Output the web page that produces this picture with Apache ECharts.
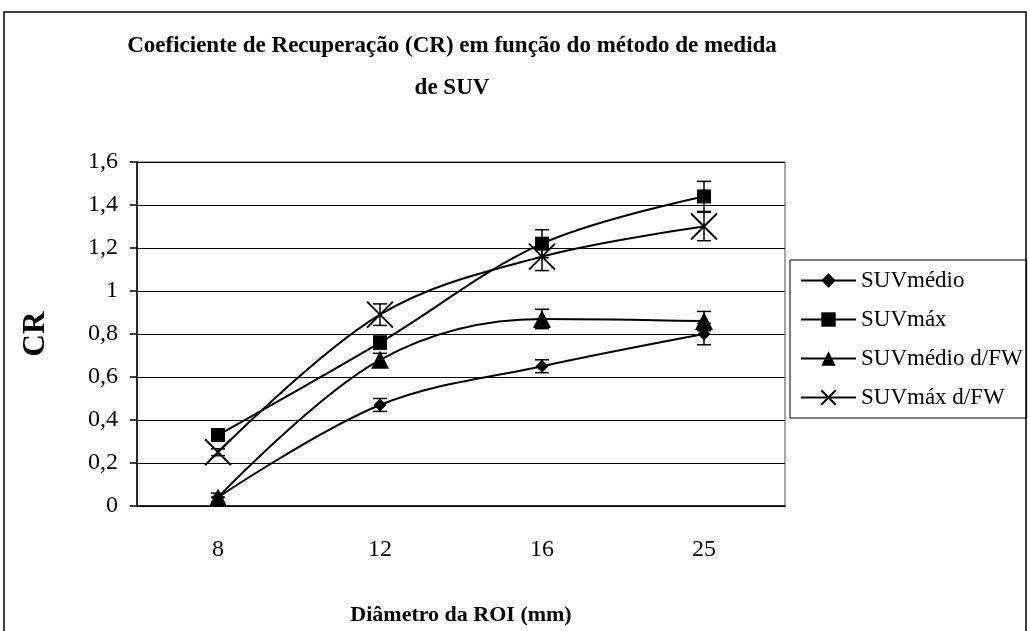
<!DOCTYPE html>
<html>
<head>
<meta charset="utf-8">
<script src="https://cdn.jsdelivr.net/npm/echarts@6/dist/echarts.min.js"></script>
<style>
  html, body { margin: 0; padding: 0; background: #fff; }
  #chart { width: 1029px; height: 631px; }
</style>
</head>
<body>
<div id="chart"></div>
<script>
const categories = ['8', '12', '16', '25']
const seriesNames = ['SUVmédio', 'SUVmáx', 'SUVmédio d/FW', 'SUVmáx d/FW']

const suvMedio = [0.04, 0.47, 0.65, 0.80]
const suvMax = [0.33, 0.76, 1.22, 1.44]
const suvMedioFW = [0.04, 0.68, 0.87, 0.86]
const suvMaxFW = [0.25, 0.89, 1.16, 1.30]

const errMedio = [0, 0.03, 0.03, 0.05]
const errMax = [0.02, 0.03, 0.065, 0.07]
const errMedioFW = [0.02, 0.03, 0.045, 0.045]
const errMaxFW = [0.016, 0.05, 0.065, 0.066]

const serif = '"Liberation Serif", "DejaVu Serif", serif'
const crossPath = 'path://M0,0L10,10M10,0L0,10'

const chart = echarts.init(document.getElementById('chart'))

function lineSeries(name, data, symbol, size) {
  return {
    name,
    type: 'line',
    data,
    smooth: 0.35,
    symbol,
    symbolSize: size,
    showSymbol: true,
    lineStyle: { color: '#000', width: 2 },
    itemStyle: symbol === crossPath
      ? { color: 'transparent', borderColor: '#000', borderWidth: 2 }
      : { color: '#000', borderColor: '#000', borderWidth: 0 },
    z: 3,
    animation: false,
  }
}

function errorSeries(values, errs) {
  return {
    type: 'custom',
    data: values.map((v, i) => [i, v - errs[i], v + errs[i]]),
    renderItem(params, api) {
      const lo = api.coord([api.value(0), api.value(1)])
      const hi = api.coord([api.value(0), api.value(2)])
      const w = 7
      const style = { stroke: '#000', lineWidth: 1.5 }
      return {
        type: 'group',
        children: [
          { type: 'line', shape: { x1: lo[0], y1: lo[1], x2: hi[0], y2: hi[1] }, style },
          { type: 'line', shape: { x1: lo[0] - w, y1: lo[1], x2: lo[0] + w, y2: lo[1] }, style },
          { type: 'line', shape: { x1: hi[0] - w, y1: hi[1], x2: hi[0] + w, y2: hi[1] }, style },
        ],
      }
    },
    z: 4,
    silent: true,
    animation: false,
  }
}

const option = {
  backgroundColor: '#fff',
  animation: false,
  graphic: [
    {
      type: 'rect',
      shape: { x: 4, y: 12, width: 1022, height: 640 },
      style: { fill: 'none', stroke: '#000', lineWidth: 1.5 },
      z: -1,
    },
    {
      type: 'text',
      x: 452,
      y: 46,
      style: {
        text: 'Coeficiente de Recuperação (CR) em função do método de medida',
        font: 'bold 23px ' + serif,
        fill: '#000',
        align: 'center',
        verticalAlign: 'middle',
      },
    },
    {
      type: 'text',
      x: 452,
      y: 88,
      style: {
        text: 'de SUV',
        font: 'bold 23px ' + serif,
        fill: '#000',
        align: 'center',
        verticalAlign: 'middle',
      },
    },
  ],
  legend: {
    orient: 'vertical',
    left: 790,
    top: 260,
    itemWidth: 55,
    itemHeight: 18,
    itemGap: 16,
    padding: [9, 4, 9, 10],
    borderColor: '#000',
    borderWidth: 1,
    textStyle: { fontFamily: serif, fontSize: 23, color: '#000' },
    data: seriesNames,
  },
  grid: {
    left: 137,
    right: 244,
    top: 162,
    bottom: 125,
    containLabel: false,
    outerBoundsMode: 'none',
    show: true,
    borderColor: '#888',
    borderWidth: 1.5,
  },
  xAxis: [
    {
      type: 'category',
      data: categories,
      boundaryGap: true,
      name: 'Diâmetro da ROI (mm)',
      nameLocation: 'middle',
      nameGap: 98,
      nameTextStyle: { fontFamily: serif, fontWeight: 'bold', fontSize: 22, color: '#000' },
      axisLine: { lineStyle: { color: '#000', width: 1.5 } },
      axisTick: { inside: true, length: 7, lineStyle: { color: '#000', width: 1.5 } },
      axisLabel: { margin: 32, fontFamily: serif, fontSize: 24, color: '#000' },
      splitLine: { show: false },
    },
    {
      type: 'category',
      data: categories,
      position: 'bottom',
      axisLine: { show: false },
      axisTick: { alignWithLabel: true, length: 6, lineStyle: { color: '#000', width: 1.5 } },
      axisLabel: { show: false },
    },
  ],
  yAxis: {
    type: 'value',
    min: 0,
    max: 1.6,
    interval: 0.2,
    name: 'CR',
    nameLocation: 'middle',
    nameGap: 86,
    nameTextStyle: { fontFamily: serif, fontWeight: 'bold', fontSize: 31, color: '#000' },
    axisLine: { show: true, lineStyle: { color: '#000', width: 1.5 } },
    axisTick: { show: true, length: 7, lineStyle: { color: '#000', width: 1.5 } },
    axisLabel: {
      margin: 19,
      fontFamily: serif,
      fontSize: 24,
      color: '#000',
      formatter: v => String(Math.round(v * 10) / 10).replace('.', ','),
    },
    splitLine: { lineStyle: { color: '#000', width: 1.2 } },
  },
  series: [
    lineSeries(seriesNames[0], suvMedio, 'diamond', 13),
    lineSeries(seriesNames[1], suvMax, 'rect', 14),
    lineSeries(seriesNames[2], suvMedioFW, 'triangle', 18),
    lineSeries(seriesNames[3], suvMaxFW, crossPath, 26),
    errorSeries(suvMedio, errMedio),
    errorSeries(suvMax, errMax),
    errorSeries(suvMedioFW, errMedioFW),
    errorSeries(suvMaxFW, errMaxFW),
  ],
}

chart.setOption(option)
</script>
</body>
</html>
